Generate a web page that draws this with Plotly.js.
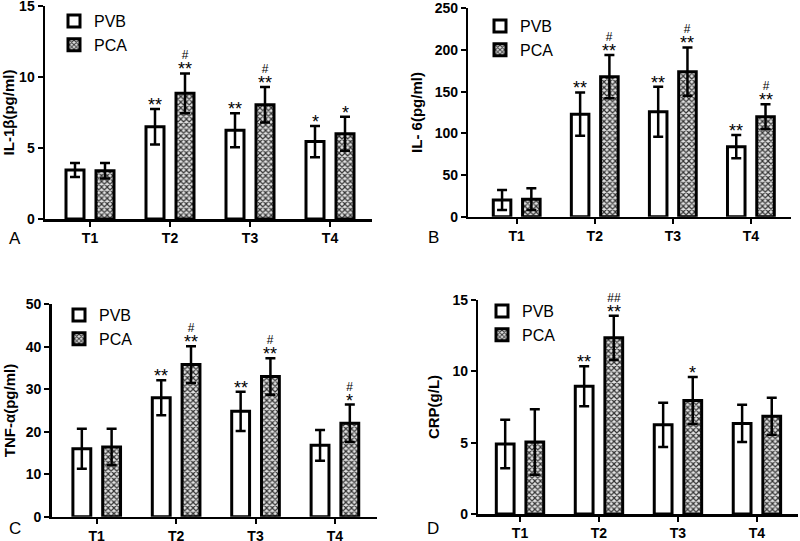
<!DOCTYPE html>
<html>
<head>
<meta charset="utf-8">
<script src="https://cdn.plot.ly/plotly-3.0.1.min.js"></script>
<style>html,body{margin:0;padding:0;background:#fff;}#chart{width:800px;height:541px;}</style>
</head>
<body>
<div id="chart"></div>
<script>
const categories = ['T1', 'T2', 'T3', 'T4'];
const seriesNames = ['PVB', 'PCA'];

// Panel A: IL-1β (pg/ml)
const il1bPVB = [3.45, 6.5, 6.25, 5.45];
const il1bPVBsd = [0.5, 1.25, 1.2, 1.1];
const il1bPCA = [3.4, 8.85, 8.05, 6.0];
const il1bPCAsd = [0.55, 1.4, 1.25, 1.2];
const il1bPVBsig = ['', '**', '**', '*'];
const il1bPCAsig = ['', '**', '**', '*'];
const il1bPCAhash = ['', '#', '#', ''];

// Panel B: IL-6 (pg/ml)
const il6PVB = [20, 123, 126, 84];
const il6PVBsd = [12, 26, 30, 14];
const il6PCA = [21, 168, 174, 120];
const il6PCAsd = [13, 26, 29, 15];
const il6PVBsig = ['', '**', '**', '**'];
const il6PCAsig = ['', '**', '**', '**'];
const il6PCAhash = ['', '#', '#', '#'];

// Panel C: TNF-α (pg/ml)
const tnfPVB = [16, 28, 24.8, 16.8];
const tnfPVBsd = [4.7, 4.1, 4.6, 3.6];
const tnfPCA = [16.4, 35.8, 33, 22];
const tnfPCAsd = [4.3, 4.3, 4.3, 4.4];
const tnfPVBsig = ['', '**', '**', ''];
const tnfPCAsig = ['', '**', '**', '*'];
const tnfPCAhash = ['', '#', '#', '#'];

// Panel D: CRP (g/L)
const crpPVB = [4.9, 8.95, 6.25, 6.35];
const crpPVBsd = [1.7, 1.4, 1.55, 1.3];
const crpPCA = [5.05, 12.35, 7.95, 6.85];
const crpPCAsd = [2.3, 1.55, 1.65, 1.3];
const crpPVBsig = ['', '**', '', ''];
const crpPCAsig = ['', '**', '*', ''];
const crpPCAhash = ['', '##', '', ''];

const yTitles = ['IL-1β(pg/ml)', 'IL- 6(pg/ml)', 'TNF-α(pg/ml)', 'CRP(g/L)'];
const panelLetters = ['A', 'B', 'C', 'D'];
const yMax = [15, 250, 50, 15];
const yStep = [5, 50, 10, 5];

const FONT = 'Liberation Sans, Arial, Helvetica, sans-serif';
const W = 800, H = 541;

const panels = [
  {pvb: il1bPVB, pvbSd: il1bPVBsd, pca: il1bPCA, pcaSd: il1bPCAsd, pvbSig: il1bPVBsig, pcaSig: il1bPCAsig, hash: il1bPCAhash,
   px: [45, 372], py: [6, 219], xr: [-0.5625, 3.525], leg: [54, 4], letter: [15, 238], standoff: 7},
  {pvb: il6PVB, pvbSd: il6PVBsd, pca: il6PCA, pcaSd: il6PCAsd, pvbSig: il6PVBsig, pcaSig: il6PCAsig, hash: il6PCAhash,
   px: [468.3, 790.7], py: [8.3, 216.7], xr: [-0.62, 3.51], leg: [480, 9], letter: [433, 237], standoff: 9},
  {pvb: tnfPVB, pvbSd: tnfPVBsd, pca: tnfPCA, pcaSd: tnfPCAsd, pvbSig: tnfPVBsig, pcaSig: tnfPCAsig, hash: tnfPCAhash,
   px: [51.7, 376.7], py: [304.3, 516.7], xr: [-0.567, 3.526], leg: [59, 298], letter: [15, 528], standoff: 7},
  {pvb: crpPVB, pvbSd: crpPVBsd, pca: crpPCA, pcaSd: crpPCAsd, pvbSig: crpPVBsig, pcaSig: crpPCAsig, hash: crpPCAhash,
   px: [478.3, 798], py: [300, 514], xr: [-0.528, 3.52], leg: [482, 294], letter: [433, 528], standoff: 9}
];

const traces = [];
const annotations = [];
const layout = {
  width: W, height: H,
  margin: {l: 0, r: 0, t: 0, b: 0},
  paper_bgcolor: '#fff', plot_bgcolor: 'rgba(0,0,0,0)',
  barmode: 'group', bargap: 0.25, bargroupgap: 0.4,
  font: {family: FONT, color: '#000'},
  annotations: annotations
};

const slot = (1 - 0.25) / 2;

function sigLabel(hash, stars) {
  if (hash) return hash + '<br><span style="font-size:18px">' + stars + '</span>';
  return '<span style="font-size:18px">' + stars + '</span>';
}

panels.forEach((p, i) => {
  const n = i === 0 ? '' : String(i + 1);
  const xa = 'x' + n, ya = 'y' + n;
  const legName = 'legend' + n;
  traces.push({
    type: 'bar', name: seriesNames[0], x: categories, y: p.pvb,
    xaxis: xa, yaxis: ya, legend: legName,
    marker: {color: '#ffffff', line: {color: '#000', width: 3}},
    error_y: {type: 'data', array: p.pvbSd, visible: true, color: '#000', thickness: 2.5, width: 5},
    hoverinfo: 'y'
  });
  traces.push({
    type: 'bar', name: seriesNames[1], x: categories, y: p.pca,
    xaxis: xa, yaxis: ya, legend: legName,
    marker: {color: '#d8d8d8', line: {color: '#000', width: 3},
             pattern: {shape: 'x', fgcolor: '#333333', bgcolor: '#e2e2e2', size: 4, solidity: 0.5}},
    error_y: {type: 'data', array: p.pcaSd, visible: true, color: '#000', thickness: 2.5, width: 5},
    hoverinfo: 'y'
  });

  layout['xaxis' + n] = {
    domain: [p.px[0] / W, p.px[1] / W], anchor: ya,
    type: 'category', range: p.xr, fixedrange: true,
    showline: true, linecolor: '#000', linewidth: 2.5,
    ticks: 'outside', ticklen: 5, tickwidth: 2, tickcolor: '#000',
    showgrid: false, zeroline: false, ticklabeloverflow: 'allow',
    tickfont: {family: FONT, size: 14, weight: 'bold', color: '#000'}
  };
  layout['yaxis' + n] = {
    domain: [1 - p.py[1] / H, 1 - p.py[0] / H], anchor: xa,
    range: [0, yMax[i]], dtick: yStep[i], tick0: 0, fixedrange: true,
    showline: true, linecolor: '#000', linewidth: 2.5,
    ticks: 'outside', ticklen: 5, tickwidth: 2, tickcolor: '#000',
    showgrid: false, zeroline: false, ticklabeloverflow: 'allow',
    tickfont: {family: FONT, size: 14, weight: 'bold', color: '#000'},
    title: {text: yTitles[i], standoff: p.standoff, font: {family: FONT, size: 15, weight: 'bold', color: '#000'}}
  };
  layout[legName] = {
    x: p.leg[0] / W, y: 1 - p.leg[1] / H, xanchor: 'left', yanchor: 'top',
    bgcolor: 'rgba(0,0,0,0)', borderwidth: 0,
    font: {family: FONT, size: 16, color: '#000'},
    traceorder: 'normal', itemclick: false, itemdoubleclick: false
  };

  annotations.push({
    xref: 'paper', yref: 'paper', x: p.letter[0] / W, y: 1 - p.letter[1] / H,
    text: panelLetters[i], showarrow: false, xanchor: 'center', yanchor: 'middle',
    font: {family: FONT, size: 17, color: '#000'}
  });

  categories.forEach((c, k) => {
    const pvTop = p.pvb[k] + p.pvbSd[k];
    const pcTop = p.pca[k] + p.pcaSd[k];
    if (p.pvbSig[k]) {
      annotations.push({xref: xa, yref: ya, x: k - slot / 2, y: pvTop, text: sigLabel('', p.pvbSig[k]),
        showarrow: false, yanchor: 'bottom', yshift: -8,
        font: {family: FONT, size: 12, color: '#000'}});
    }
    if (p.pcaSig[k]) {
      annotations.push({xref: xa, yref: ya, x: k + slot / 2, y: pcTop, text: sigLabel(p.hash[k], p.pcaSig[k]),
        showarrow: false, yanchor: 'bottom', yshift: -8,
        font: {family: FONT, size: 12, color: '#000'}});
    }
  });
});

Plotly.newPlot('chart', traces, layout, {displayModeBar: false, staticPlot: true});
</script>
</body>
</html>
